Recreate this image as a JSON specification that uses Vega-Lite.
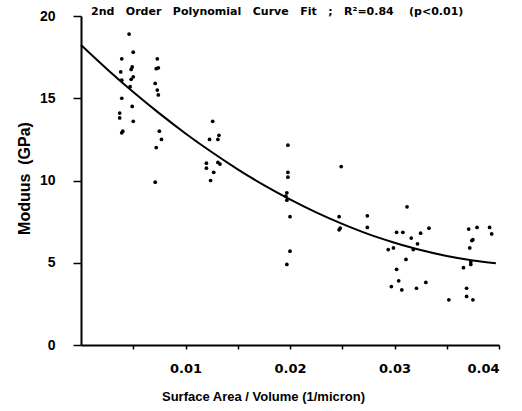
{
  "$schema": "https://vega.github.io/schema/vega-lite/v6.json",
  "width": 418,
  "height": 329,
  "autosize": "none",
  "padding": {"left": 81, "top": 16, "right": 23, "bottom": 66},
  "background": "white",
  "config": {"view": {"stroke": null}, "font": "Liberation Sans"},
  "title": {"text": "2nd\u00a0\u00a0\u00a0Order\u00a0\u00a0\u00a0Polynomial\u00a0\u00a0\u00a0Curve\u00a0\u00a0\u00a0Fit\u00a0\u00a0\u00a0;\u00a0\u00a0\u00a0R²=0.84\u00a0\u00a0\u00a0\u00a0(p<0.01)", "anchor": "start", "frame": "group", "dx": 10, "offset": 0, "dy": 17, "font": "DejaVu Sans", "fontSize": 11, "fontWeight": "bold", "color": "black", "baseline": "alphabetic"},
  "datasets": {
    "pts": [
      {"x": 0.0046, "y": 18.9}, {"x": 0.0039, "y": 17.4}, {"x": 0.0050, "y": 17.8}, {"x": 0.0038, "y": 16.6},
      {"x": 0.0049, "y": 16.9}, {"x": 0.0048, "y": 16.75}, {"x": 0.0039, "y": 16.1}, {"x": 0.0050, "y": 16.3},
      {"x": 0.0048, "y": 16.15}, {"x": 0.0047, "y": 15.7}, {"x": 0.0039, "y": 15.0}, {"x": 0.0049, "y": 14.5},
      {"x": 0.0037, "y": 14.1}, {"x": 0.0037, "y": 13.8}, {"x": 0.0050, "y": 13.6}, {"x": 0.0040, "y": 13.0},
      {"x": 0.0039, "y": 12.9},
      {"x": 0.0073, "y": 17.4}, {"x": 0.0072, "y": 16.8}, {"x": 0.0074, "y": 16.85}, {"x": 0.0071, "y": 15.9},
      {"x": 0.0073, "y": 15.5}, {"x": 0.0074, "y": 15.2}, {"x": 0.0075, "y": 13.0}, {"x": 0.0077, "y": 12.5},
      {"x": 0.0072, "y": 12.0}, {"x": 0.0071, "y": 9.9},
      {"x": 0.0126, "y": 13.6}, {"x": 0.0123, "y": 12.5}, {"x": 0.0132, "y": 12.75}, {"x": 0.0131, "y": 12.5},
      {"x": 0.0120, "y": 11.05}, {"x": 0.0120, "y": 10.75}, {"x": 0.0127, "y": 10.5}, {"x": 0.0124, "y": 10.0},
      {"x": 0.0131, "y": 11.1}, {"x": 0.0133, "y": 11.0},
      {"x": 0.0198, "y": 12.15}, {"x": 0.0198, "y": 10.5}, {"x": 0.0198, "y": 10.2}, {"x": 0.0197, "y": 9.25},
      {"x": 0.0196, "y": 9.05}, {"x": 0.0197, "y": 8.8}, {"x": 0.0200, "y": 7.8}, {"x": 0.0200, "y": 5.7},
      {"x": 0.0197, "y": 4.9},
      {"x": 0.0249, "y": 10.85}, {"x": 0.0247, "y": 7.8}, {"x": 0.0248, "y": 7.1}, {"x": 0.0247, "y": 7.0},
      {"x": 0.0274, "y": 7.85}, {"x": 0.0274, "y": 7.15},
      {"x": 0.0312, "y": 8.4}, {"x": 0.0302, "y": 6.85}, {"x": 0.0308, "y": 6.85}, {"x": 0.0316, "y": 6.5},
      {"x": 0.0325, "y": 6.8}, {"x": 0.0333, "y": 7.1}, {"x": 0.0322, "y": 6.15}, {"x": 0.0294, "y": 5.8},
      {"x": 0.0299, "y": 5.9}, {"x": 0.0318, "y": 5.8}, {"x": 0.0311, "y": 5.2}, {"x": 0.0302, "y": 4.6},
      {"x": 0.0304, "y": 3.9}, {"x": 0.0297, "y": 3.55}, {"x": 0.0307, "y": 3.35}, {"x": 0.0321, "y": 3.45},
      {"x": 0.0330, "y": 3.8}, {"x": 0.0352, "y": 2.75},
      {"x": 0.0371, "y": 7.05}, {"x": 0.0379, "y": 7.15}, {"x": 0.0375, "y": 6.4}, {"x": 0.0374, "y": 6.35},
      {"x": 0.0372, "y": 5.9}, {"x": 0.0373, "y": 5.05}, {"x": 0.0373, "y": 4.9}, {"x": 0.0366, "y": 4.7},
      {"x": 0.0369, "y": 3.45}, {"x": 0.0369, "y": 2.95}, {"x": 0.0375, "y": 2.75}, {"x": 0.0391, "y": 7.15},
      {"x": 0.0393, "y": 6.75}
    ],
    "fit": [
      {"x": 0.0, "y": 18.24}, {"x": 0.0025, "y": 16.77}, {"x": 0.005, "y": 15.38}, {"x": 0.0075, "y": 14.08},
      {"x": 0.01, "y": 12.86}, {"x": 0.0125, "y": 11.73}, {"x": 0.015, "y": 10.68}, {"x": 0.0175, "y": 9.72},
      {"x": 0.02, "y": 8.85}, {"x": 0.0225, "y": 8.06}, {"x": 0.025, "y": 7.36}, {"x": 0.0275, "y": 6.74},
      {"x": 0.03, "y": 6.22}, {"x": 0.0325, "y": 5.77}, {"x": 0.035, "y": 5.41}, {"x": 0.0375, "y": 5.14},
      {"x": 0.0397, "y": 4.97}
    ]
  },
  "layer": [
    {
      "data": {"name": "pts"},
      "mark": {"type": "circle", "size": 14, "color": "black", "opacity": 1},
      "encoding": {
        "x": {"field": "x", "type": "quantitative", "scale": {"domain": [0, 0.04], "nice": false},
          "axis": {"title": "Surface Area / Volume (1/micron)", "values": [0.005, 0.01, 0.015, 0.02, 0.025, 0.03, 0.035, 0.04],
            "labelExpr": "round(datum.value*1000) % 10 == 0 ? format(datum.value, '.2f') : ''",
            "grid": false, "domainColor": "black", "domainWidth": 2, "tickColor": "black", "tickWidth": 1.5, "tickSize": 4,
            "labelFont": "DejaVu Sans", "labelFontSize": 13, "labelFontWeight": "bold", "labelColor": "black", "labelPadding": 13,
            "titleFontSize": 13, "titleFontWeight": "bold", "titleColor": "black", "titleX": 182, "titleY": 51, "titleBaseline": "middle"}},
        "y": {"field": "y", "type": "quantitative", "scale": {"domain": [0, 20], "nice": false},
          "axis": {"title": "Moduus\u00a0\u00a0(GPa)", "values": [0, 5, 10, 15, 20],
            "grid": false, "domainColor": "black", "domainWidth": 2, "tickColor": "black", "tickWidth": 1.5, "tickSize": 8,
            "labelFontSize": 14, "labelFontWeight": "bold", "labelColor": "black", "labelPadding": 18,
            "titleFontSize": 16, "titleFontWeight": "bold", "titleColor": "black", "titleX": -57, "titleY": 162, "titleBaseline": "middle"}}
      }
    },
    {
      "data": {"name": "fit"},
      "mark": {"type": "line", "color": "black", "strokeWidth": 2, "interpolate": "monotone"},
      "encoding": {
        "x": {"field": "x", "type": "quantitative"},
        "y": {"field": "y", "type": "quantitative"}
      }
    }
  ]
}
